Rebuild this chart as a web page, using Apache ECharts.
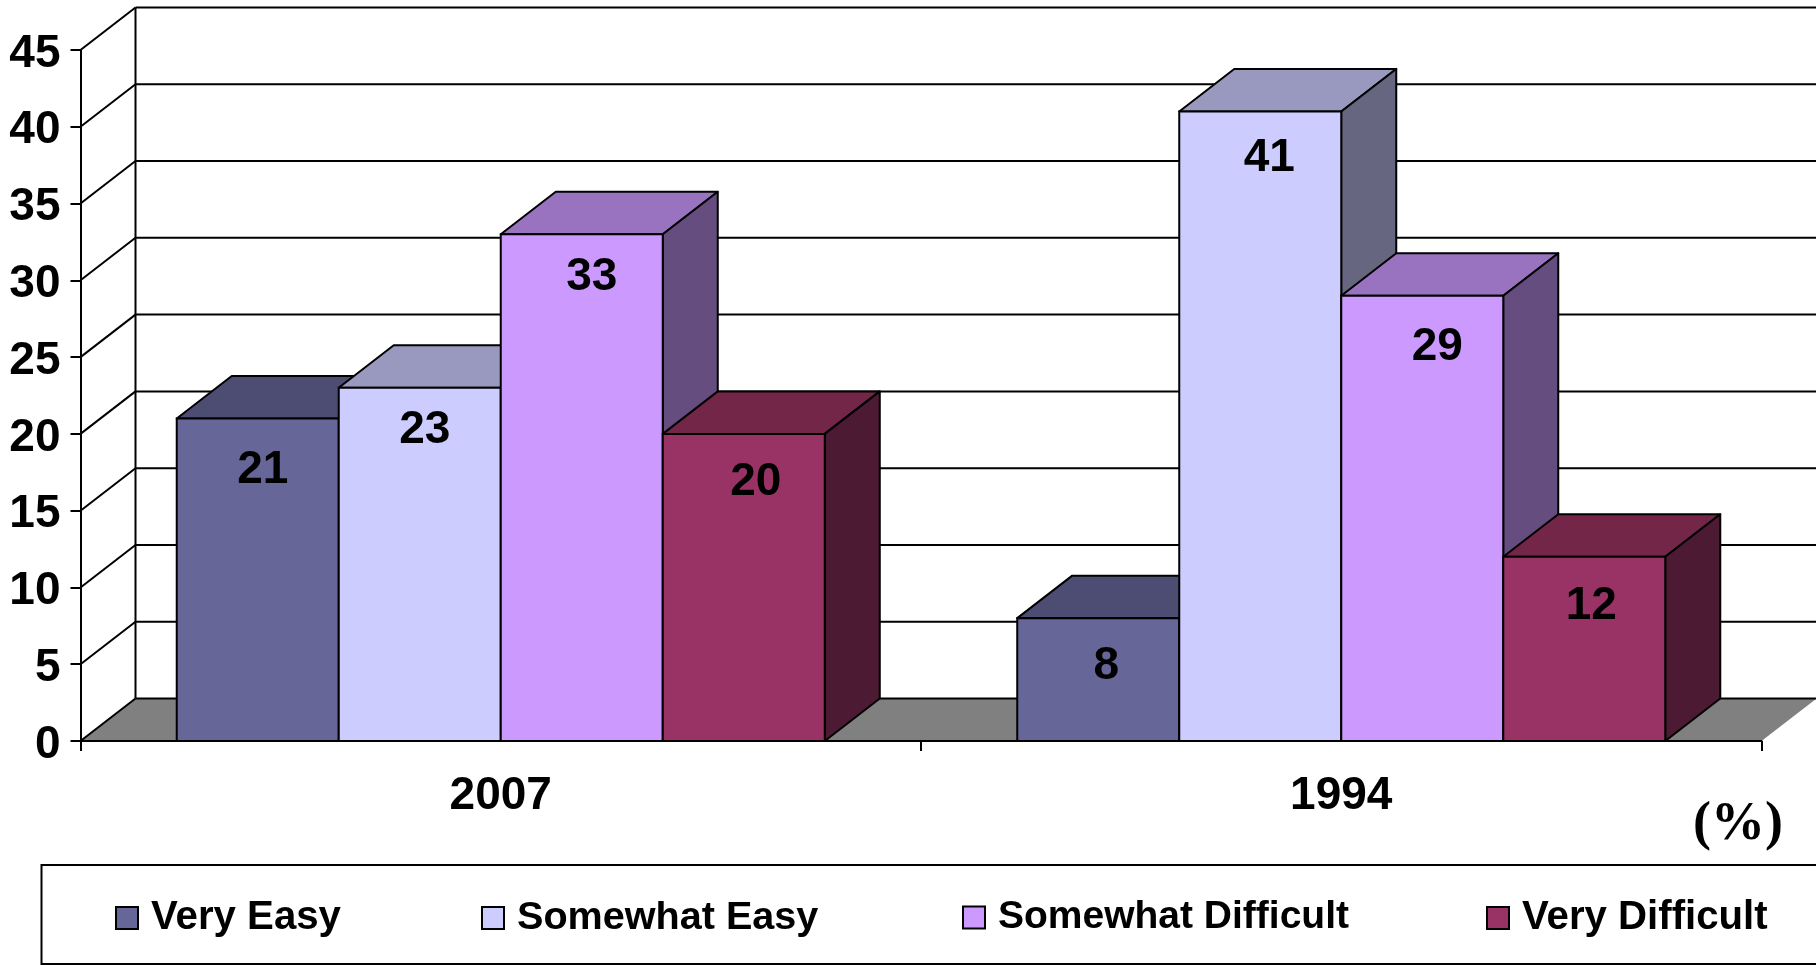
<!DOCTYPE html>
<html>
<head>
<meta charset="utf-8">
<style>html,body{margin:0;padding:0;background:#fff}#chart{width:1816px;height:965px}</style>
<script src="https://cdn.jsdelivr.net/npm/echarts@6/dist/echarts.min.js"></script>
</head>
<body>
<div id="chart"></div>
<script>
const categories = ['2007', '1994'];
const seriesNames = ['Very Easy', 'Somewhat Easy', 'Somewhat Difficult', 'Very Difficult'];
const veryEasy = [21, 8];
const somewhatEasy = [23, 41];
const somewhatDifficult = [33, 29];
const veryDifficult = [20, 12];
const yTicks = [0, 5, 10, 15, 20, 25, 30, 35, 40, 45];

// Styling and layout only
const FONT = '"Liberation Sans", Arial, sans-serif';
const palette = [
  { front: '#666699', top: '#4D4D73', side: '#333350' },
  { front: '#CCCCFF', top: '#9999BF', side: '#666680' },
  { front: '#CC99FF', top: '#9973BF', side: '#664D80' },
  { front: '#993366', top: '#732648', side: '#4D1A33' }
];
const DEPTH_X = 55, DEPTH_Y = 42.5, GROUP_WIDTH = 0.771;
const labelNudge = [
  [[5, 52], [8, 48]],
  [[5, 42], [9, 47]],
  [[10, 43], [15, 52]],
  [[12, 48], [7, 50]]
];
const legendLefts = [115, 481, 962, 1486];
const legendFontSizes = [40.2, 39.6, 39, 40.2];
const line = { stroke: '#000', lineWidth: 2 };

function renderWall(params, api) {
  const v = api.value(0);
  const cs = params.coordSys;
  const p = api.coord([0, v]);
  const y = p[1], x0 = cs.x, x1 = cs.x + cs.width;
  const bx = x0 + DEPTH_X, by = y - DEPTH_Y;
  const children = [];
  if (v === 0) {
    children.push({
      type: 'polygon',
      shape: { points: [[x0, y], [bx, by], [x1 + DEPTH_X, by], [x1, y]] },
      style: { fill: '#808080', stroke: 'none' }
    });
    children.push({
      type: 'line',
      shape: { x1: bx, y1: by, x2: bx, y2: cs.y - DEPTH_Y },
      style: line
    });
  }
  children.push({ type: 'line', shape: { x1: x0, y1: y, x2: bx, y2: by }, style: line });
  children.push({ type: 'line', shape: { x1: bx, y1: by, x2: x1 + DEPTH_X, y2: by }, style: line });
  return { type: 'group', children };
}

function makeBarRenderer(index) {
  return function (params, api) {
    const cat = api.value(0), val = api.value(1);
    const top = api.coord([cat, val]);
    const base = api.coord([cat, 0]);
    const w = api.size([1, 0])[0] * GROUP_WIDTH / seriesNames.length;
    const xL = top[0] - 2 * w + index * w, xR = xL + w;
    const yT = top[1], yB = base[1];
    const c = palette[index];
    const n = labelNudge[index][cat];
    return {
      type: 'group',
      children: [
        { type: 'polygon', shape: { points: [[xL, yT], [xL + DEPTH_X, yT - DEPTH_Y], [xR + DEPTH_X, yT - DEPTH_Y], [xR, yT]] },
          style: { fill: c.top, stroke: '#000', lineWidth: 2, lineJoin: 'round' } },
        { type: 'polygon', shape: { points: [[xR, yT], [xR + DEPTH_X, yT - DEPTH_Y], [xR + DEPTH_X, yB - DEPTH_Y], [xR, yB]] },
          style: { fill: c.side, stroke: '#000', lineWidth: 2, lineJoin: 'round' } },
        { type: 'rect', shape: { x: xL, y: yT, width: w, height: yB - yT },
          style: { fill: c.front, stroke: '#000', lineWidth: 2 } },
        { type: 'text', style: { text: String(val), x: (xL + xR) / 2 + n[0], y: yT + n[1],
            align: 'center', verticalAlign: 'middle', fill: '#000',
            font: 'bold 46px ' + FONT } }
      ]
    };
  };
}

const valueLists = [veryEasy, somewhatEasy, somewhatDifficult, veryDifficult];

const option = {
  animation: false,
  backgroundColor: '#fff',
  color: palette.map(p => p.front),
  title: {
    text: '(%)', left: 1693, top: 798, padding: 0,
    textStyle: { fontFamily: '"Liberation Serif", "Times New Roman", serif', fontWeight: 'bold', fontSize: 54, color: '#000' }
  },
  legend: seriesNames.map((name, i) => ({
    data: [name], left: legendLefts[i], top: 898, padding: 0,
    icon: 'rect', itemWidth: 22, itemHeight: 22, itemGap: 0,
    selectedMode: false,
    itemStyle: { borderColor: '#000', borderWidth: 2 },
    textStyle: { fontFamily: FONT, fontWeight: 'bold', fontSize: legendFontSizes[i], color: '#000', padding: [0, 0, 0, 8] }
  })),
  graphic: [{
    type: 'rect', z: -1,
    shape: { x: 41.5, y: 865, width: 1800, height: 99 },
    style: { fill: '#fff', stroke: '#000', lineWidth: 2 }
  }],
  grid: { left: 80.5, top: 50, width: 1681, height: 691 },
  xAxis: {
    type: 'category', data: categories, z: 5,
    axisLine: { show: true, lineStyle: { color: '#000', width: 2 } },
    axisTick: { show: true, alignWithLabel: false, length: 10, lineStyle: { color: '#000', width: 2 } },
    axisLabel: { color: '#000', fontFamily: FONT, fontWeight: 'bold', fontSize: 46, margin: 32 },
    splitLine: { show: false }
  },
  yAxis: {
    type: 'value', min: 0, max: 45, interval: 5, z: 5,
    axisLine: { show: true, lineStyle: { color: '#000', width: 2 } },
    axisTick: { show: true, length: 10, lineStyle: { color: '#000', width: 2 } },
    axisLabel: { color: '#000', fontFamily: FONT, fontWeight: 'bold', fontSize: 46, margin: 20, formatter: '{n|{value}}',
      rich: { n: { fontFamily: FONT, fontWeight: 'bold', fontSize: 46, color: '#000', padding: [8, 0, 0, 0] } } },
    splitLine: { show: false }
  },
  series: [
    {
      type: 'custom', name: 'wall', silent: true, z: 1,
      data: yTicks.map(v => [v]),
      encode: { y: 0 },
      renderItem: renderWall
    }
  ].concat(seriesNames.map((name, i) => ({
    type: 'custom', name, silent: true, z: 2 + i,
    itemStyle: { color: palette[i].front },
    data: valueLists[i].map((v, c) => [c, v]),
    encode: { x: 0, y: 1 },
    renderItem: makeBarRenderer(i)
  })))
};

const chart = echarts.init(document.getElementById('chart'), null, { renderer: 'canvas' });
chart.setOption(option);
</script>
</body>
</html>
